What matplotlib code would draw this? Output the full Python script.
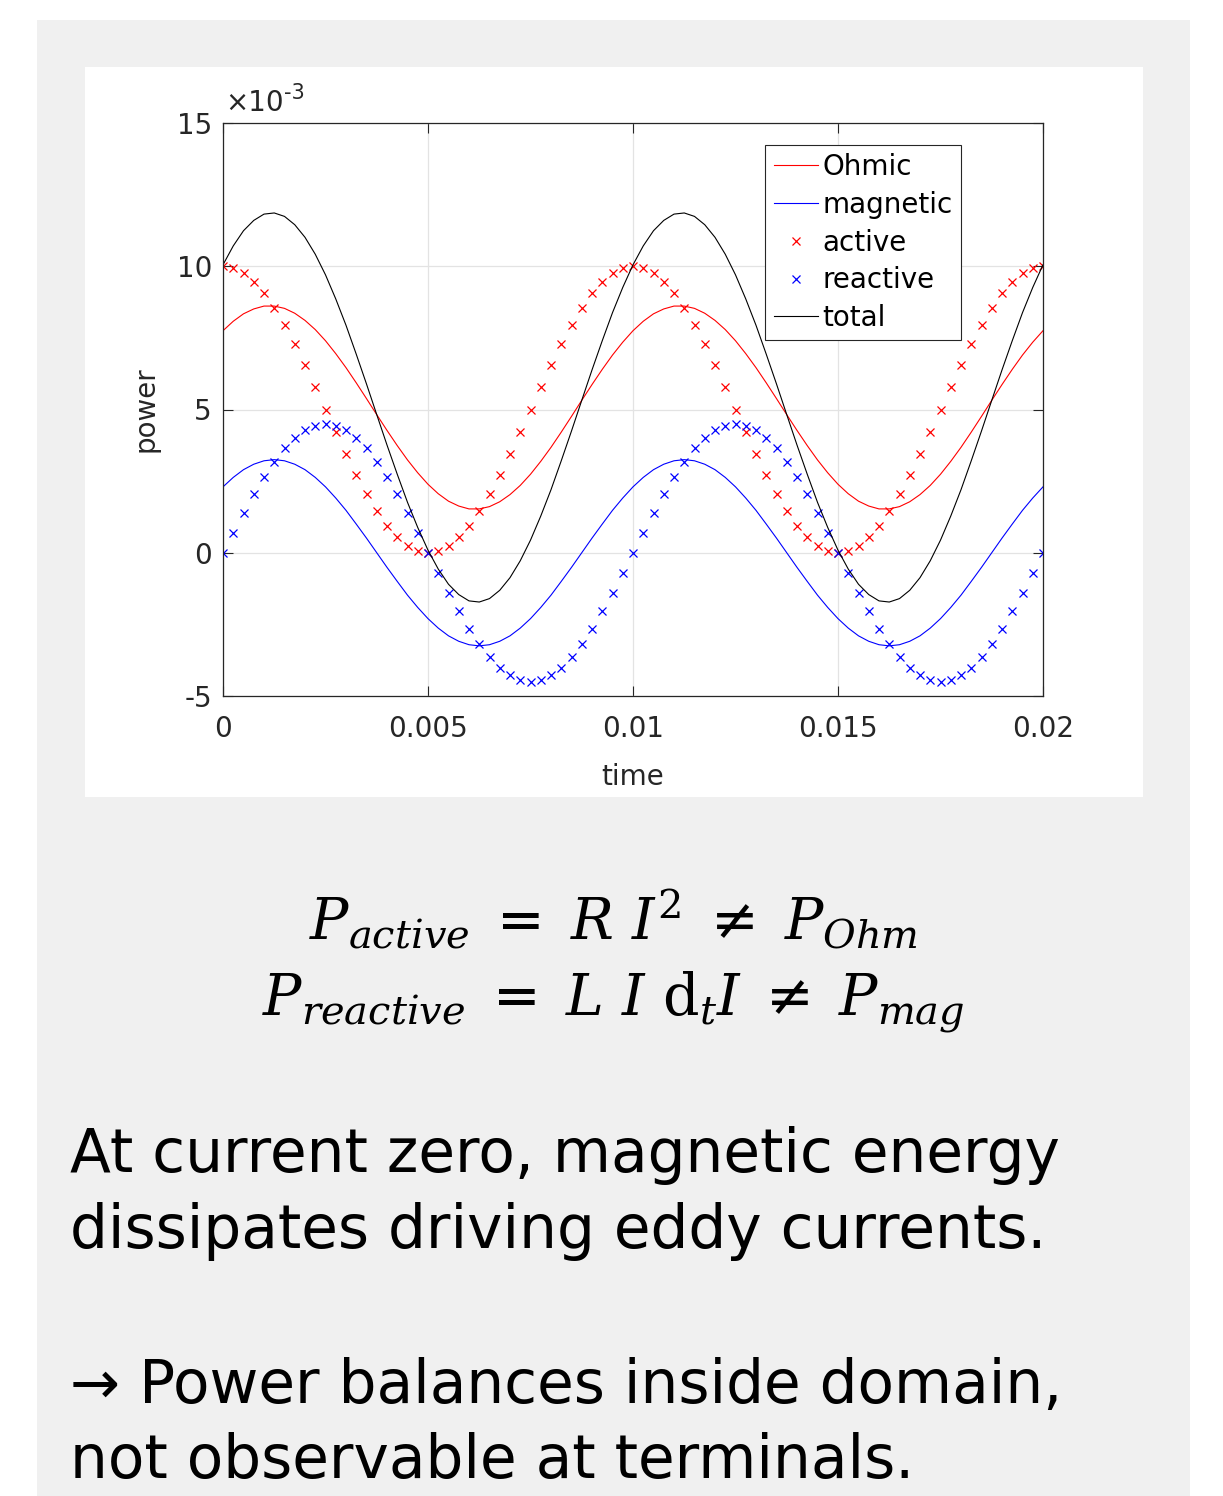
import matplotlib
matplotlib.use("Agg")
import matplotlib.pyplot as plt
from matplotlib.patches import Rectangle
import numpy as np

# sample times (s), 81 samples over two half-periods of power
time = np.linspace(0, 0.02, 81)

# power values in units of 1e-3
ohmic = [7.75, 8.08, 8.34, 8.51, 8.61, 8.61, 8.53, 8.36, 8.11, 7.79,
         7.40, 6.95, 6.46, 5.93, 5.38, 4.82, 4.27, 3.74, 3.24, 2.79,
         2.39, 2.06, 1.80, 1.63, 1.53, 1.53, 1.61, 1.78, 2.03, 2.35,
         2.74, 3.19, 3.68, 4.21, 4.76, 5.32, 5.87, 6.40, 6.90, 7.35,
         7.75, 8.08, 8.34, 8.51, 8.61, 8.61, 8.53, 8.36, 8.11, 7.79,
         7.40, 6.95, 6.46, 5.93, 5.38, 4.82, 4.27, 3.74, 3.24, 2.79,
         2.39, 2.06, 1.80, 1.63, 1.53, 1.53, 1.61, 1.78, 2.03, 2.35,
         2.74, 3.19, 3.68, 4.21, 4.76, 5.32, 5.87, 6.40, 6.90, 7.35,
         7.75]

magnetic = [2.30, 2.63, 2.90, 3.09, 3.21, 3.25, 3.21, 3.09, 2.90, 2.63,
            2.30, 1.91, 1.48, 1.00, 0.51, 0.00, -0.51, -1.00, -1.48, -1.91,
            -2.30, -2.63, -2.90, -3.09, -3.21, -3.25, -3.21, -3.09, -2.90, -2.63,
            -2.30, -1.91, -1.48, -1.00, -0.51, 0.00, 0.51, 1.00, 1.48, 1.91,
            2.30, 2.63, 2.90, 3.09, 3.21, 3.25, 3.21, 3.09, 2.90, 2.63,
            2.30, 1.91, 1.48, 1.00, 0.51, 0.00, -0.51, -1.00, -1.48, -1.91,
            -2.30, -2.63, -2.90, -3.09, -3.21, -3.25, -3.21, -3.09, -2.90, -2.63,
            -2.30, -1.91, -1.48, -1.00, -0.51, 0.00, 0.51, 1.00, 1.48, 1.91,
            2.30]

active = [10.00, 9.94, 9.76, 9.45, 9.05, 8.54, 7.94, 7.27, 6.55, 5.78,
          5.00, 4.22, 3.45, 2.73, 2.06, 1.46, 0.95, 0.55, 0.24, 0.06,
          0.00, 0.06, 0.24, 0.55, 0.95, 1.46, 2.06, 2.73, 3.45, 4.22,
          5.00, 5.78, 6.55, 7.27, 7.94, 8.54, 9.05, 9.45, 9.76, 9.94,
          10.00, 9.94, 9.76, 9.45, 9.05, 8.54, 7.94, 7.27, 6.55, 5.78,
          5.00, 4.22, 3.45, 2.73, 2.06, 1.46, 0.95, 0.55, 0.24, 0.06,
          0.00, 0.06, 0.24, 0.55, 0.95, 1.46, 2.06, 2.73, 3.45, 4.22,
          5.00, 5.78, 6.55, 7.27, 7.94, 8.54, 9.05, 9.45, 9.76, 9.94,
          10.00]

reactive = [0.00, 0.70, 1.39, 2.04, 2.65, 3.18, 3.64, 4.01, 4.28, 4.44,
            4.50, 4.44, 4.28, 4.01, 3.64, 3.18, 2.65, 2.04, 1.39, 0.70,
            0.00, -0.70, -1.39, -2.04, -2.65, -3.18, -3.64, -4.01, -4.28, -4.44,
            -4.50, -4.44, -4.28, -4.01, -3.64, -3.18, -2.65, -2.04, -1.39, -0.70,
            0.00, 0.70, 1.39, 2.04, 2.65, 3.18, 3.64, 4.01, 4.28, 4.44,
            4.50, 4.44, 4.28, 4.01, 3.64, 3.18, 2.65, 2.04, 1.39, 0.70,
            0.00, -0.70, -1.39, -2.04, -2.65, -3.18, -3.64, -4.01, -4.28, -4.44,
            -4.50, -4.44, -4.28, -4.01, -3.64, -3.18, -2.65, -2.04, -1.39, -0.70,
            0.00]

total = [10.05, 10.71, 11.24, 11.60, 11.82, 11.86, 11.74, 11.45, 11.01, 10.42,
         9.70, 8.86, 7.94, 6.93, 5.89, 4.82, 3.76, 2.74, 1.76, 0.88,
         0.09, -0.57, -1.10, -1.46, -1.68, -1.72, -1.60, -1.31, -0.87, -0.28,
         0.44, 1.28, 2.20, 3.21, 4.25, 5.32, 6.38, 7.40, 8.38, 9.26,
         10.05, 10.71, 11.24, 11.60, 11.82, 11.86, 11.74, 11.45, 11.01, 10.42,
         9.70, 8.86, 7.94, 6.93, 5.89, 4.82, 3.76, 2.74, 1.76, 0.88,
         0.09, -0.57, -1.10, -1.46, -1.68, -1.72, -1.60, -1.31, -0.87, -0.28,
         0.44, 1.28, 2.20, 3.21, 4.25, 5.32, 6.38, 7.40, 8.38, 9.26,
         10.05]

xticks = [0, 0.005, 0.01, 0.015, 0.02]
xticklabels = ['0', '0.005', '0.01', '0.015', '0.02']
yticks = [-5, 0, 5, 10, 15]
yticklabels = ['-5', '0', '5', '10', '15']

plt.rcParams['font.family'] = ['DejaVu Sans']
dark = '#262626'

W, H = 1223, 1496
fig = plt.figure(figsize=(W / 100, H / 100), dpi=100)
fig.patch.set_facecolor('white')

# grey slide panel and white figure panel
fig.patches.append(Rectangle((37 / W, 0), (1190 - 37) / W, (H - 20) / H,
                             transform=fig.transFigure, facecolor='#f0f0f0',
                             edgecolor='none', zorder=0))
fig.patches.append(Rectangle((85 / W, (H - 797) / H), (1143 - 85) / W, (797 - 67) / H,
                             transform=fig.transFigure, facecolor='white',
                             edgecolor='none', zorder=1))

ax = fig.add_axes([223 / W, (H - 696) / H, 820 / W, 573 / H])
ax.set_zorder(2)

ax.plot(time, ohmic, color='red', lw=0.8, label='Ohmic')
ax.plot(time, magnetic, color='blue', lw=0.8, label='magnetic')
ax.plot(time, active, ls='none', marker='x', ms=5.5, mew=0.9, color='red', label='active')
ax.plot(time, reactive, ls='none', marker='x', ms=5.5, mew=0.9, color='blue', label='reactive')
ax.plot(time, total, color='black', lw=0.8, label='total')

ax.set_xlim(0, 0.02)
ax.set_ylim(-5, 15)
ax.set_xticks(xticks)
ax.set_xticklabels(xticklabels)
ax.set_yticks(yticks)
ax.set_yticklabels(yticklabels)
ax.tick_params(direction='in', length=7, width=0.8, colors=dark, labelsize=20,
               top=True, right=True)
ax.tick_params(axis='x', pad=14)
ax.tick_params(axis='y', pad=8)
ax.grid(True, color='#e3e3e3', lw=0.9)
ax.set_axisbelow(True)
for s in ax.spines.values():
    s.set_color(dark)
    s.set_linewidth(0.9)

ax.set_xlabel('time', fontsize=20, color=dark, labelpad=14)
ax.set_ylabel('power', fontsize=20, color=dark, labelpad=12)
fig.text(225 / W, 1 - 111 / H, '×10', fontsize=20, color=dark,
         ha='left', va='baseline')
fig.text(284 / W, 1 - 99 / H, '-3', fontsize=15, color=dark,
         ha='left', va='baseline')

leg = ax.legend(loc='upper right', bbox_to_anchor=(0.9, 0.962), borderaxespad=0,
                fontsize=20, fancybox=False, framealpha=1, edgecolor=dark,
                handlelength=1.6, handletextpad=0.15, labelspacing=0.35,
                borderpad=0.3, markerscale=1.0)
leg.get_frame().set_linewidth(0.8)

# equations
eq1 = r'$P_{active}\;=\;R\ I^2\;\neq\;P_{Ohm}$'
eq2 = r'$P_{reactive}\;=\;L\ I\ \mathrm{d}_t I\;\neq\;P_{mag}$'
fig.text(613 / W, 1 - 940 / H, eq1, fontsize=41, ha='center', va='baseline',
         math_fontfamily='dejavuserif', color='black')
fig.text(613 / W, 1 - 1015 / H, eq2, fontsize=41, ha='center', va='baseline',
         math_fontfamily='dejavuserif', color='black')

# slide text
body = [('At current zero, magnetic energy', 1172),
        ('dissipates driving eddy currents.', 1248),
        ('\u2192 Power balances inside domain,', 1403),
        ('not observable at terminals.', 1478)]
for txt, yb in body:
    fig.text(70 / W, 1 - yb / H, txt, fontsize=43, ha='left', va='baseline',
             color='black')

fig.savefig('out.png', dpi=100)
